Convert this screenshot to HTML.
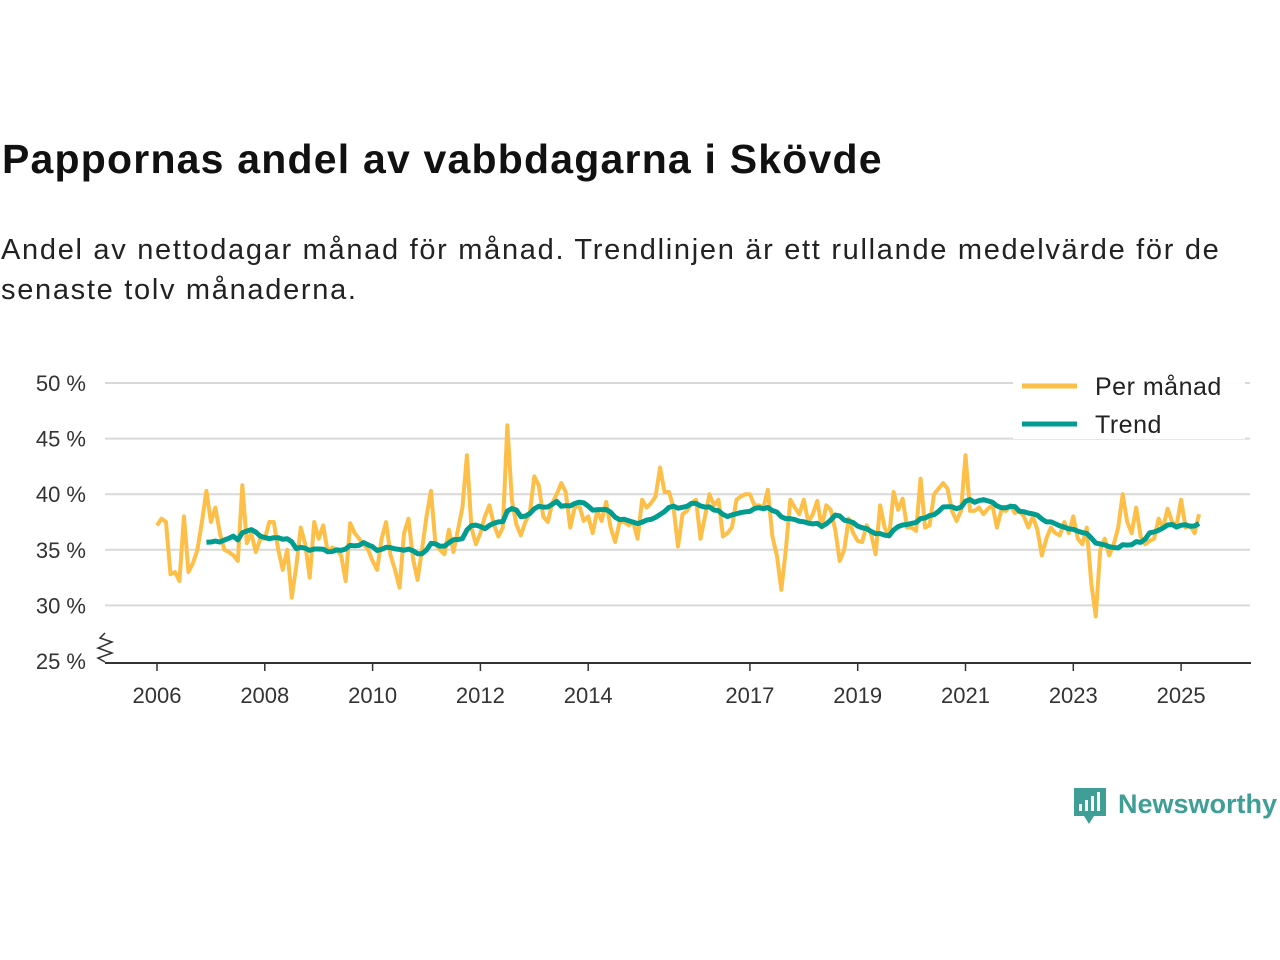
<!DOCTYPE html>
<html><head><meta charset="utf-8">
<style>
body{margin:0;width:1280px;height:960px;background:#fff;font-family:"Liberation Sans",sans-serif;overflow:hidden;position:relative}
h1{position:absolute;left:2px;top:136px;margin:0;font-size:41px;font-weight:bold;color:#111;letter-spacing:1.2px}
p.sub{position:absolute;left:1px;top:230px;margin:0;font-size:29px;line-height:40px;color:#222;width:1250px;letter-spacing:1.7px}
svg{position:absolute;left:0;top:0}
</style></head><body>
<h1>Pappornas andel av vabbdagarna i Skövde</h1>
<p class="sub">Andel av nettodagar månad för månad. Trendlinjen är ett rullande medelvärde för de senaste tolv månaderna.</p>
<svg id="chart" width="1280" height="960"></svg>
<script>
const yTicks=[25,30,35,40,45,50];
const xTickYears=[2006,2008,2010,2012,2014,2017,2019,2021,2023,2025];
const startYear=2006;
const monthly=[
37.2,37.8,37.5,32.8,33,32.2,38,33,33.8,35,37.5,40.3,
37.5,38.8,36.5,35,34.8,34.5,34,40.8,35.6,36.5,34.8,36,
36,37.5,37.5,35,33.2,35,30.7,33.5,37,35.5,32.5,37.5,
36,37.2,34.8,35.2,35,34.5,32.2,37.4,36.5,36,35.5,35,
34,33.2,36,37.5,34.5,33.2,31.6,36.5,37.8,34.2,32.3,35,
38,40.3,35.5,35,34.6,36.8,34.8,36.8,38.8,43.5,37,35.5,
36.5,38,39,37.3,36.2,37,46.2,39.5,37.3,36.3,37.5,38.3,
41.6,40.8,38,37.5,39.2,40,41,40.2,37,38.8,39,37.6,
38,36.5,38.5,37.6,39.3,37,35.7,37.5,37.5,37.2,37.5,36,
39.5,38.8,39.2,39.8,42.4,40.2,40.2,38.8,35.3,38.2,38.5,39.2,
39.5,36,38,40,39,39.5,36.2,36.5,37,39.5,39.8,40,
40,39,39,38.8,40.4,36.2,34.5,31.4,35,39.5,38.8,38.2,
39.5,37.5,38.2,39.4,37,39,38.6,36.8,34,35,37.8,36.5,
35.8,35.7,37.2,36.4,34.6,39,37,36.2,40.2,38.6,39.6,37,
37,36.7,41.4,37,37.2,40,40.5,41,40.5,38.5,37.6,38.5,
43.5,38.5,38.5,38.8,38.2,38.7,39,37,38.6,38.5,39,38.3,
38.5,38,37,38,36.8,34.5,36,37,36.5,36.3,37.5,36.5,
38,36,35.5,37,32,29,35,36,34.5,35.5,37,40,
37.5,36.5,38.8,36.2,35.5,35.8,36,37.8,37,38.7,37.5,37.2,
39.5,37,37.2,36.5,38.2
];
const NS='http://www.w3.org/2000/svg';
const svg=document.getElementById('chart');
const X=t=>157+(t-startYear)*53.9;
const Y=v=>661-(v-25)*11.12;
function mk(tag,attrs,parent){const e=document.createElementNS(NS,tag);for(const k in attrs)e.setAttribute(k,attrs[k]);(parent||svg).appendChild(e);return e;}
yTicks.forEach(v=>{
  if(v>25){const g=mk('line',{x1:105,x2:1250,y1:Y(v),y2:Y(v),stroke:'#d9d9d9','stroke-width':2});
  
  }
  const t=mk('text',{x:86,y:Y(v)+8,'text-anchor':'end','font-size':22,fill:'#333'});
  t.textContent=v+' %';
  
  
});
const ax=mk('line',{x1:105,x2:1251,y1:663,y2:663,stroke:'#333','stroke-width':2});


const br=mk('path',{d:'M105,633 L100,638 L112,642 L98,648 L112,653 L98,658 L105,662',fill:'none',stroke:'#333','stroke-width':1.5});


xTickYears.forEach(yr=>{
  const x=X(yr);
  mk('line',{x1:x,x2:x,y1:663,y2:671,stroke:'#333','stroke-width':1.5});
  const t=mk('text',{x:x,y:703,'text-anchor':'middle','font-size':22,fill:'#333'});
  t.textContent=yr;
  
  
});
const pts=monthly.map((v,i)=>[X(startYear+i/12),Y(v)]);
const l1=mk('polyline',{points:pts.map(p=>p.join(',')).join(' '),fill:'none',stroke:'#fdbf47','stroke-width':4,'stroke-linejoin':'round'});


const trend=[];
for(let i=11;i<monthly.length;i++){let s=0;for(let j=i-11;j<=i;j++)s+=monthly[j];trend.push([X(startYear+i/12),Y(s/12)]);}
const l2=mk('polyline',{points:trend.map(p=>p.join(',')).join(' '),fill:'none',stroke:'#009c8f','stroke-width':5,'stroke-linejoin':'round'});


const lg=mk('g',{});


mk('rect',{x:1013,y:367,width:232,height:72,fill:'#fff',opacity:0.95},lg);
mk('line',{x1:1022,x2:1077,y1:386,y2:386,stroke:'#fdbf47','stroke-width':5},lg);
mk('line',{x1:1022,x2:1077,y1:424,y2:424,stroke:'#009c8f','stroke-width':5},lg);
const a=mk('text',{x:1095,y:395,'font-size':25,'letter-spacing':0.5,fill:'#222'},lg);a.textContent='Per månad';


const b=mk('text',{x:1095,y:433,'font-size':25,'letter-spacing':0.5,fill:'#222'},lg);b.textContent='Trend';


const lo=mk('g',{});


mk('path',{d:'M1074,788 h32 v28 h-12 l-5,8 l-5,-8 h-10 z',fill:'#3f9e95'},lo);
mk('rect',{x:1079,y:804,width:3,height:7,fill:'#fff'},lo);
mk('rect',{x:1085,y:800,width:3,height:11,fill:'#fff'},lo);
mk('rect',{x:1091,y:796,width:3,height:15,fill:'#fff'},lo);
mk('rect',{x:1097,y:792,width:3,height:19,fill:'#fff'},lo);
const lt=mk('text',{x:1118,y:813,'font-size':27,'font-weight':'bold',fill:'#3f9e95'},lo);lt.textContent='Newsworthy';
</script>
</body></html>
